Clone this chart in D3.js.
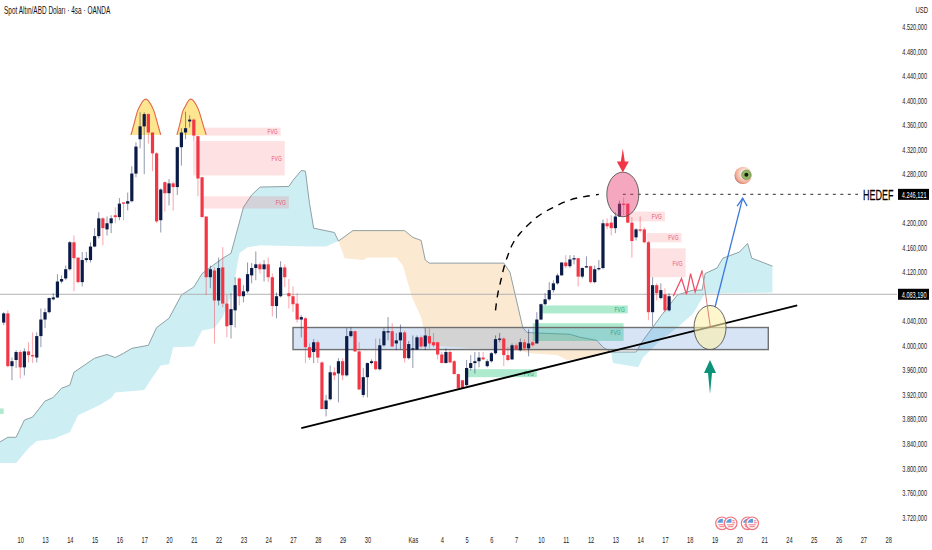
<!DOCTYPE html>
<html>
<head>
<meta charset="utf-8">
<title>Spot Altın/ABD Doları</title>
<script src="https://cdnjs.cloudflare.com/ajax/libs/d3/7.8.5/d3.min.js"></script>
<style>
  html, body { margin: 0; padding: 0; background: #fff; }
  svg { display: block; }
  text { font-family: "Liberation Sans", sans-serif; }
</style>
</head>
<body>
<div id="chart"></div>
<script>
// candles, 4h bars, in price units
const opens = [4037,4052,3966,3976,3989,3964,3990,3984,3980,4015,4042,4054,4075,4078,4104,4109,4124,4168,4143,4103,4139,4139,4161,4178,4207,4189,4199,4212,4209,4233,4231,4235,4280,4336,4357,4377,4347,4313,4204,4266,4248,4264,4258,4323,4347,4365,4368,4341,4274,4210,4111,4122,4073,4127,4068,4033,4057,4109,4080,4088,4114,4126,4132,4124,4132,4111,4064,4080,4127,4085,4080,4068,4042,4044,3997,3989,4005,3972,3896,3912,3956,3954,3974,3951,4015,4023,3990,3919,3948,3971,3974,3961,4000,4021,4023,4003,4008,4021,3979,3993,3993,4013,3998,4015,4005,4005,3985,3971,3989,3974,3953,3943,3935,3963,3971,3974,3980,3966,3974,3987,4010,4011,3984,3977,4000,3992,4005,3995,4005,4003,4042,4067,4075,4090,4101,4114,4135,4129,4140,4142,4112,4127,4129,4103,4124,4126,4199,4200,4191,4210,4231,4231,4200,4176,4189,4189,4168,4054,4098,4077,4083,4057];
const highs = [4054,4057,3980,3992,3992,3995,4005,4021,4021,4060,4060,4078,4085,4116,4114,4130,4170,4179,4143,4152,4152,4168,4191,4217,4209,4210,4212,4225,4240,4233,4249,4292,4331,4380,4380,4378,4347,4315,4256,4267,4271,4267,4324,4354,4381,4375,4370,4342,4275,4210,4130,4127,4143,4160,4082,4085,4111,4111,4098,4135,4134,4153,4135,4139,4143,4117,4086,4137,4132,4108,4096,4085,4049,4046,4003,4010,4008,3974,3919,3967,3964,3979,3979,4028,4029,4024,4005,3963,3972,3977,4011,4011,4028,4046,4036,4020,4034,4024,4007,4016,4016,4016,4028,4028,4020,4005,3989,3995,3992,3976,3954,3943,3976,3984,3989,3989,3989,3977,3989,4016,4020,4013,3997,4003,4003,4011,4010,4026,4007,4054,4068,4085,4103,4106,4117,4135,4147,4147,4147,4142,4127,4145,4130,4130,4139,4205,4207,4212,4217,4236,4241,4231,4209,4191,4210,4192,4170,4111,4101,4101,4093,4085];
const lows = [4033,3964,3943,3963,3946,3951,3972,3971,3972,3997,4028,4052,4073,4077,4101,4106,4122,4088,4101,4096,4135,4135,4160,4174,4163,4179,4183,4199,4204,4204,4220,4233,4274,4321,4279,4329,4284,4199,4184,4218,4228,4220,4245,4293,4336,4355,4333,4243,4209,4082,4093,4003,4065,4062,4013,4011,4029,4065,4070,4085,4101,4106,4117,4104,4103,4047,4044,4078,4095,4060,4054,4037,4013,3971,3976,3971,3971,3896,3884,3910,3943,3907,3943,3949,4013,3989,3927,3915,3915,3969,3959,3959,3998,4008,3997,3992,3993,3972,3977,3963,3992,3995,3992,3995,3997,3977,3971,3971,3971,3953,3928,3930,3933,3959,3954,3964,3976,3964,3972,3985,4005,3966,3974,3976,3992,3990,3992,3982,3998,4003,4041,4065,4073,4086,4099,4114,4126,4126,4132,4096,4109,4127,4101,4101,4122,4124,4189,4179,4183,4209,4212,4199,4143,4171,4184,4166,4041,4031,4073,4075,4054,4055];
const closes = [4052,3966,3974,3989,3964,3990,3984,3982,4015,4042,4054,4077,4078,4104,4108,4124,4168,4142,4103,4139,4142,4161,4178,4207,4191,4199,4207,4209,4231,4231,4235,4280,4324,4357,4377,4347,4313,4202,4254,4248,4264,4258,4323,4347,4354,4368,4342,4272,4209,4111,4124,4073,4126,4068,4031,4059,4098,4080,4088,4116,4126,4132,4124,4132,4111,4064,4080,4127,4111,4080,4067,4042,4046,3997,3980,4005,3980,3896,3910,3956,3951,3974,3951,4015,4023,3990,3928,3948,3971,3974,3961,4000,4023,4023,3998,4008,4021,3979,4002,3995,4013,3998,4016,4003,4000,3985,3971,3989,3972,3953,3930,3930,3963,3971,3974,3980,3977,3974,3987,4010,4011,3984,3976,4000,3993,4005,3995,4003,4000,4042,4067,4075,4090,4101,4114,4135,4129,4140,4142,4112,4126,4129,4103,4124,4126,4199,4194,4191,4210,4231,4230,4200,4170,4189,4187,4168,4054,4098,4085,4090,4057,4080];

// axes
const priceTicks = [4520,4480,4440,4400,4360,4320,4280,4200,4160,4120,4040,4000,3960,3920,3880,3840,3800,3760,3720];
const dateTickBars = [4,10,16,22,28,34,40,46,52,58,64,70,76,82,88,99,106,112,118,124,130,136,142,148,154,160,166,172,178,184,190,196,202,208,214];
const dateTickLabels = ["10","13","14","15","16","17","20","21","22","23","24","27","28","29","30","Kas","4","5","6","7","10","11","12","13","14","17","18","19","20","21","24","25","26","27","28"];
const lastPrice = 4083.19;
const targetPrice = 4246.121;

// ichimoku cloud edges as [bar, price]
const cloudUpper1 = [[-1,3842],[1,3850],[3,3850],[5,3878],[7,3883],[10,3909],[12,3915],[14,3930],[16,3935],[17,3956],[22,3979],[25,3985],[27,3980],[29,3987],[31,3995],[35,4000],[37,4029],[40,4044],[43,4082],[46,4095],[48,4117],[53,4142],[55,4150],[58,4225],[60,4245],[62,4258],[69,4259],[70,4269],[72,4285],[73,4284],[74,4231],[75,4191],[80,4184],[81,4170]];
const cloudLower1 = [[-1,3808],[3,3808],[6,3832],[8,3844],[12,3847],[16,3858],[18,3886],[23,3902],[26,3914],[27,3923],[34,3927],[36,3948],[38,3967],[40,3969],[41,3997],[46,3998],[48,4024],[51,4028],[53,4046],[55.5,4090],[57,4150],[59,4160],[62,4163],[74,4161],[78,4161],[81,4170]];
const cloudUpper2 = [[81,4170],[84.5,4187],[97,4187],[99,4176],[101,4171],[102,4139],[103,4134],[121,4134],[122.5,4119],[125.6,4029],[126.6,4021],[129,4020],[137,4018],[139.5,4013],[143.5,4008],[145,3997],[147,3989]];
const cloudLower2 = [[81,4170],[82.5,4142],[87,4139],[88,4143],[95,4143],[96.6,4130],[98.8,4078],[101,4046],[101.7,4024],[103,4000],[113,3995],[123.7,3993],[127.3,3987],[133.9,3984],[136.3,3976],[141.8,3979],[147,3989]];
const cloudUpper3 = [[147,3989],[153,3989],[154.7,4008],[157,4029],[159.5,4052],[163,4082],[166.8,4090],[169,4090],[169.7,4117],[172.6,4126],[174,4142],[178,4152],[180,4166],[181,4142],[183,4137],[186,4129]];
const cloudLower3 = [[147,3989],[147.4,3971],[153.5,3964],[154.7,3980],[158.8,4008],[163,4029],[166.8,4052],[169.7,4085],[186,4086]];

// FVG zones: bar0, bar1, top price, bottom price
const fvgRed = [[45.8,67,4355,4342],[45.8,68,4333,4277],[48.2,69,4243,4223],[151.5,160,4218,4202],[155.6,164,4183,4168],[155.6,165,4158,4111]];
const fvgGreen = [[130.2,151,4065,4052],[128,150,4036,4007],[112.3,129,3961,3948]];
const fvgGreenEdge = [[-1,0,3897,3888]];
const demandZone = [70,185,4029,3993];

// drawings
const trendLine = [[72,3865],[192,4065]];
const dashedArc = [[119,4057],[119.5,4082],[120.3,4106],[121,4126],[122,4147],[123.2,4166],[125,4183],[129,4209],[133,4225],[137,4237],[141,4243],[144,4246]];
const zigzag = [[162,4080],[164,4109],[165.2,4083],[166.2,4117],[167.3,4087],[169,4122],[171,4029]];
const blueArrow = [[172.1,4062],[178.8,4240]];
const arch1 = [[30.8,4343],[31.8,4367],[32.3,4382],[33,4391],[33.8,4400],[34.4,4402],[34.9,4400],[35.8,4391],[36.4,4382],[37,4367],[38,4343]];
const arch2 = [[41.9,4343],[42.9,4367],[43.2,4382],[44.1,4391],[44.7,4400],[45.3,4402],[45.8,4400],[46.7,4391],[47.3,4382],[47.9,4367],[49,4343]];
const pinkEllipse = [149.8,4246];
const yellowEllipse = [170.9,4029];
const eyeSpot = [178.9,4277];
const flagBars = [173.8,175.9,180,181.1];

const W = 932, H = 550;
const x = d3.scaleLinear().domain([0, 161]).range([3.7, 669.1]);
const y = d3.scaleLinear().domain([3720, 4520]).range([517, 26.4]);
const priceFmt = d3.formatLocale({ decimal: ",", thousands: ".", grouping: [3], currency: ["", ""] }).format(",.3f");
const line = d3.line().x(d => x(d[0])).y(d => y(d[1]));

// the source picture is squeezed sideways, so text is narrowed to match
function squeeze(sel, k) {
  sel.each(function () {
    const t = d3.select(this);
    const x0 = +t.attr("x") || 0;
    t.attr("x", 0).attr("transform", `translate(${x0},0) scale(${k},1)`);
  });
}

const svg = d3.select("#chart").append("svg").attr("width", W).attr("height", H);

const defs = svg.append("defs");
defs.append("clipPath").attr("id", "plot").append("rect").attr("width", 897).attr("height", H);
const eyeGrad = defs.append("radialGradient").attr("id", "eyeball").attr("cx", "0.6").attr("cy", "0.4").attr("r", "0.7");
eyeGrad.append("stop").attr("offset", "0.3").attr("stop-color", "#fbe6da");
eyeGrad.append("stop").attr("offset", "0.75").attr("stop-color", "#f0a994");
eyeGrad.append("stop").attr("offset", "1").attr("stop-color", "#a8503f");

const plot = svg.append("g").attr("clip-path", "url(#plot)");

// cloud
const cloudParts = [
  [cloudUpper1, cloudLower1, "#cdeef3"],
  [cloudUpper2, cloudLower2, "#fbe9d2"],
  [cloudUpper3, cloudLower3, "#cdeef3"],
];
cloudParts.forEach(([up, low, col]) => {
  plot.append("path").attr("d", line(up.concat(low.slice().reverse())) + "Z").attr("fill", col);
});
cloudParts.forEach(([up]) => {
  plot.append("path").attr("d", line(up)).attr("fill", "none").attr("stroke", "#84979b").attr("stroke-width", 0.9);
});

// last price line
plot.append("line").attr("x1", 0).attr("x2", 897).attr("y1", y(lastPrice)).attr("y2", y(lastPrice))
  .attr("stroke", "#b3b3b3").attr("stroke-width", 1);

// FVG boxes
function fvg(list, fill, textCol) {
  const g = plot.append("g");
  g.selectAll("rect").data(list).join("rect")
    .attr("x", d => x(d[0])).attr("width", d => x(d[1]) - x(d[0]))
    .attr("y", d => y(d[2])).attr("height", d => y(d[3]) - y(d[2]))
    .attr("fill", fill);
  g.selectAll("text").data(list).join("text")
    .attr("x", d => x(d[1]) - 3).attr("y", d => (y(d[2]) + y(d[3])) / 2 + 2.8)
    .attr("text-anchor", "end").attr("font-size", 8).attr("fill", textCol)
    .text("FVG")
    .call(squeeze, 0.62);
}
fvg(fvgRed, "rgba(242,54,69,0.15)", "#e8557a");
fvg(fvgGreen, "rgba(30,200,120,0.36)", "#2aa878");
plot.append("rect").datum(fvgGreenEdge[0])
  .attr("x", d => x(d[0])).attr("width", d => x(d[1]) - x(d[0]))
  .attr("y", d => y(d[2])).attr("height", d => y(d[3]) - y(d[2]))
  .attr("fill", "rgba(30,200,120,0.36)");

// demand box
plot.append("rect")
  .attr("x", x(demandZone[0])).attr("width", x(demandZone[1]) - x(demandZone[0]))
  .attr("y", y(demandZone[2])).attr("height", y(demandZone[3]) - y(demandZone[2]))
  .attr("fill", "rgba(70,130,215,0.22)").attr("stroke", "#707070").attr("stroke-width", 1.4);

// arches under the candles
const archLine = d3.line().x(d => x(d[0])).y(d => y(d[1])).curve(d3.curveBasis);
[arch1, arch2].forEach(a => {
  plot.append("path").attr("d", archLine(a) + "Z").attr("fill", "#fde68f");
  plot.append("path").attr("d", archLine(a)).attr("fill", "none").attr("stroke", "#e2654a").attr("stroke-width", 1.1);
});

// candles
const UP = "#0b1a46", DOWN = "#f23645";
const bars = d3.range(opens.length).map(i => ({ i, o: opens[i], h: highs[i], l: lows[i], c: closes[i] }));
const candles = plot.append("g").selectAll("g").data(bars).join("g");
candles.append("line")
  .attr("x1", d => x(d.i)).attr("x2", d => x(d.i))
  .attr("y1", d => y(d.h)).attr("y2", d => y(d.l))
  .attr("stroke", d => d.c >= d.o ? UP : DOWN)
  .attr("stroke-opacity", 0.5).attr("stroke-width", 0.9);
candles.append("rect")
  .attr("x", d => x(d.i) - 1.6).attr("width", 3.2)
  .attr("y", d => y(Math.max(d.o, d.c)))
  .attr("height", d => Math.max(1.3, Math.abs(y(d.o) - y(d.c))))
  .attr("fill", d => d.c >= d.o ? UP : DOWN);

// trend line
plot.append("path").attr("d", line(trendLine)).attr("stroke", "#000").attr("stroke-width", 1.8).attr("fill", "none");

// target dotted line
plot.append("line").attr("x1", x(pinkEllipse[0])).attr("x2", 858)
  .attr("y1", y(targetPrice)).attr("y2", y(targetPrice))
  .attr("stroke", "#555").attr("stroke-width", 1.2).attr("stroke-dasharray", "3,4.5");

// dashed arc
plot.append("path")
  .attr("d", d3.line().x(d => x(d[0])).y(d => y(d[1])).curve(d3.curveCatmullRom)(dashedArc))
  .attr("fill", "none").attr("stroke", "#000").attr("stroke-width", 1.4).attr("stroke-dasharray", "7,6");

// ellipses
plot.append("ellipse").attr("cx", x(pinkEllipse[0])).attr("cy", y(pinkEllipse[1])).attr("rx", 16).attr("ry", 22.3)
  .attr("fill", "rgba(233,60,115,0.45)").attr("stroke", "#555").attr("stroke-width", 0.9);
plot.append("ellipse").attr("cx", x(yellowEllipse[0])).attr("cy", y(yellowEllipse[1])).attr("rx", 16).attr("ry", 22)
  .attr("fill", "rgba(253,240,170,0.6)").attr("stroke", "#555").attr("stroke-width", 0.9);

// zigzag
plot.append("path").attr("d", line(zigzag.slice(0, 6))).attr("fill", "none").attr("stroke", "#ee4f69").attr("stroke-width", 1.3);
plot.append("path").attr("d", line(zigzag.slice(5))).attr("fill", "none").attr("stroke", "#d97f80").attr("stroke-width", 1);

// blue arrow
const tipX = x(blueArrow[1][0]), tipY = y(blueArrow[1][1]);
plot.append("path").attr("d", line(blueArrow)).attr("fill", "none").attr("stroke", "#3a78e0").attr("stroke-width", 1.3);
plot.append("path").attr("d", `M${tipX - 5.5},${tipY + 8}L${tipX},${tipY}L${tipX + 4.5},${tipY + 8}`)
  .attr("fill", "none").attr("stroke", "#3a78e0").attr("stroke-width", 1.3);

// red arrow pointing down into the ellipse
const redX = x(pinkEllipse[0]), redTip = y(pinkEllipse[1]) - 22;
plot.append("path")
  .attr("d", `M${redX},${redTip}L${redX - 6},${redTip - 11}L${redX - 2},${redTip - 11}L${redX},${redTip - 24}L${redX + 2},${redTip - 11}L${redX + 6},${redTip - 11}Z`)
  .attr("fill", "#f23645");

// green arrow pointing up
const grnX = x(yellowEllipse[0]), grnTip = 360;
plot.append("path")
  .attr("d", `M${grnX},${grnTip}L${grnX - 6},${grnTip + 13}L${grnX - 2},${grnTip + 13}L${grnX},${grnTip + 34}L${grnX + 2},${grnTip + 13}L${grnX + 6},${grnTip + 13}Z`)
  .attr("fill", "#0b9379");

// eye
const eye = plot.append("g").attr("transform", `translate(${x(eyeSpot[0])},${y(eyeSpot[1])})`);
eye.append("circle").attr("r", 8.6).attr("fill", "url(#eyeball)");
eye.append("circle").attr("cx", 3.3).attr("cy", -0.6).attr("r", 4.8).attr("fill", "#8fb866").attr("stroke", "#5c7d40").attr("stroke-width", 0.5);
eye.append("circle").attr("cx", 3.3).attr("cy", -0.6).attr("r", 2).attr("fill", "#1a1a10");

// flags on the time scale
const flags = plot.append("g").selectAll("g").data(flagBars).join("g")
  .attr("transform", d => `translate(${x(d)},523.3)`);
flags.append("circle").attr("r", 6.3).attr("fill", "#fff").attr("stroke", "#f2727d").attr("stroke-width", 1.2);
flags.append("path").attr("d", "M-4.7,-0.5A4.9,4.9 0 0 1 0.8,-4.6L0.8,-0.5Z").attr("fill", "#5b9bdc");
flags.append("path").attr("d", "M-3.6,1.5H3.6M-2.6,3.4H2.6M1.6,-2.5H4M1.6,-0.5H4.6").attr("stroke", "#f2727d").attr("stroke-width", 1).attr("fill", "none");

// price scale
const yAxis = d3.axisRight(y).tickValues(priceTicks).tickSize(0).tickPadding(0).tickFormat(priceFmt);
const yG = svg.append("g").attr("transform", "translate(927,0)").call(yAxis);
yG.select(".domain").remove();
yG.selectAll("text").attr("text-anchor", "end").attr("fill", "#222").attr("font-size", 9.6)
  .style("font-family", '"Liberation Sans", sans-serif')
  .call(squeeze, 0.58);

svg.append("text").attr("x", 928).attr("y", 13).attr("text-anchor", "end").attr("font-size", 9.6).attr("fill", "#222").text("USD")
  .call(squeeze, 0.62);

[targetPrice, lastPrice].forEach(p => {
  const g = svg.append("g").attr("transform", `translate(898,${y(p)})`);
  g.append("rect").attr("y", -5.5).attr("width", 31).attr("height", 11).attr("fill", "#000");
  g.append("text").attr("x", 28.5).attr("y", 3.4).attr("text-anchor", "end").attr("font-size", 9.6).attr("fill", "#fff").text(priceFmt(p))
    .call(squeeze, 0.58);
});

svg.append("text").attr("x", 863).attr("y", y(targetPrice) + 5.5).attr("font-size", 15)
  .attr("stroke", "#000").attr("stroke-width", 0.25).attr("fill", "#000").text("HEDEF")
  .call(squeeze, 0.6);

// time scale
const xAxis = d3.axisBottom(x).tickValues(dateTickBars).tickSize(0).tickPadding(0)
  .tickFormat((d, i) => dateTickLabels[i]);
const xG = svg.append("g").attr("transform", "translate(0,536)").call(xAxis);
xG.select(".domain").remove();
xG.selectAll("text").attr("fill", "#222").attr("font-size", 9.2)
  .style("font-family", '"Liberation Sans", sans-serif')
  .call(squeeze, 0.62);

// title
svg.append("text").attr("x", 4).attr("y", 14).attr("font-size", 10.4).attr("fill", "#111")
  .text("Spot Altın/ABD Doları · 4sa · OANDA")
  .call(squeeze, 0.62);
</script>
</body>
</html>
